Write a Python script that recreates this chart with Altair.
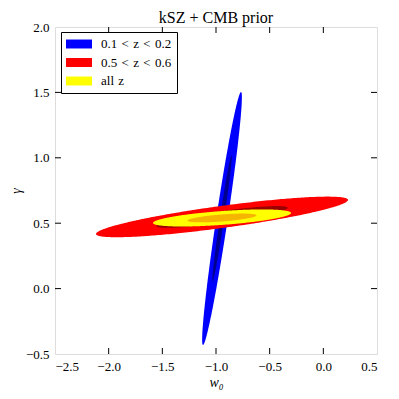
import numpy as np
import pandas as pd
import altair as alt

# ---- data ----
sets = ["0.1 < z < 0.2", "0.5 < z < 0.6", "all z"]
set_colors = ["#0000ff", "#ff0000", "#ffff00"]
inner_colors = ["#00007a", "#8b0000", "#f5a800"]

# ellipse centre (w0, gamma)
center_w0 = [-0.944, -0.944, -0.944]
center_gamma = [0.536, 0.548, 0.540]
# half major axis vector (d w0, d gamma)
major_dw0 = [0.177, 1.174, 0.643]
major_dgamma = [0.967, 0.130, 0.038]
# half width across (horizontal for first, vertical for others)
half_width = [0.054, 0.085, 0.053]
# inner (1-sigma) contours
inner_major_scale = [0.50, 0.52, 0.50]
inner_major_dgamma = [0.50, 0.070, 0.020]
inner_width = [0.02, 0.045, 0.027]

xticks = [-2.5, -2.0, -1.5, -1.0, -0.5, 0.0, 0.5]
yticks = [-0.5, 0.0, 0.5, 1.0, 1.5, 2.0]

W, H = 322, 327
phi = np.linspace(0, np.pi, 161)
t = np.cos(phi)
s = np.sin(phi)


def ellipse(i, du, dv, hw, name):
    cx, cy = center_w0[i], center_gamma[i]
    if i == 0:  # mostly vertical: parametrise by gamma
        y = cy + dv * t
        xm = cx + du * t
        return pd.DataFrame({"set": name, "g": y, "lo": xm - hw * s, "hi": xm + hw * s})
    x = cx + du * t
    ym = cy + dv * t
    return pd.DataFrame({"set": name, "w": x, "lo": ym - hw * s, "hi": ym + hw * s})


xs = alt.Scale(domain=[-2.5, 0.5], nice=False, zero=False)
ys = alt.Scale(domain=[-0.5, 2.0], nice=False, zero=False)
cscale = alt.Scale(domain=sets, range=set_colors)

font = "Liberation Serif"
xaxis = alt.Axis(values=xticks, format=".1f", ticks=False, domain=False, grid=False,
                 labelPadding=6, title="w₀", titleFontWeight="normal", titlePadding=2,
                 titleFontStyle="italic",
                 labelFont=font, titleFont=font, labelFontSize=13, titleFontSize=14,
                 labelColor="black", titleColor="black")
yaxis = alt.Axis(values=yticks, format=".1f", ticks=False, domain=False, grid=False,
                 labelPadding=6, title="γ", titleFontWeight="normal", titlePadding=2,
                 titleFontStyle="italic",
                 labelFont=font, titleFont=font, labelFontSize=13, titleFontSize=14,
                 labelColor="black", titleColor="black")

legend = alt.Legend(title=None, orient="none", legendX=6, legendY=5,
                    strokeColor="black", fillColor="white", padding=5, cornerRadius=0,
                    labelFont=font, labelFontSize=13, labelColor="black",
                    labelExpr="replace(datum.label, / /g, '\u2004')",
                    symbolType="M-1.86,-0.64H1.86V0.64H-1.86Z", symbolSize=196,
                    symbolStrokeWidth=0, symbolOpacity=1, rowPadding=4.5,
                    symbolOffset=6, labelOffset=15)

layers = []
for i in range(3):
    outer = ellipse(i, major_dw0[i], major_dgamma[i], half_width[i], sets[i])
    sc = inner_major_scale[i]
    inner = ellipse(i, major_dw0[i] * sc, inner_major_dgamma[i] if i else major_dgamma[i] * sc,
                    inner_width[i], sets[i])
    for j, df in enumerate([outer, inner]):
        if i == 0:
            mk = alt.Chart(df).mark_area(orient="horizontal", opacity=1)
            enc = dict(y=alt.Y("g:Q", scale=ys, axis=yaxis),
                       x=alt.X("lo:Q", scale=xs, axis=xaxis), x2="hi:Q")
        else:
            mk = alt.Chart(df).mark_area(orient="vertical", opacity=1)
            enc = dict(x=alt.X("w:Q", scale=xs, axis=xaxis),
                       y=alt.Y("lo:Q", scale=ys, axis=yaxis), y2="hi:Q")
        if j == 0:
            enc["color"] = alt.Color("set:N", scale=cscale, legend=legend, sort=sets)
        else:
            enc["color"] = alt.value(inner_colors[i])
            enc["opacity"] = alt.value(0.85)
        layers.append(mk.encode(**enc))

# inward ticks on all four sides
xt = pd.DataFrame({"v": xticks[1:-1]})
yt = pd.DataFrame({"v": yticks[1:-1]})
tl = 6
tick_layers = [
    alt.Chart(xt).mark_rule(color="black", strokeWidth=1).encode(
        x=alt.X("v:Q", scale=xs, axis=xaxis), y=alt.value(H), y2=alt.value(H - tl)),
    alt.Chart(xt).mark_rule(color="black", strokeWidth=1).encode(
        x=alt.X("v:Q", scale=xs, axis=xaxis), y=alt.value(0), y2=alt.value(tl)),
    alt.Chart(yt).mark_rule(color="black", strokeWidth=1).encode(
        y=alt.Y("v:Q", scale=ys, axis=yaxis), x=alt.value(0), x2=alt.value(tl)),
    alt.Chart(yt).mark_rule(color="black", strokeWidth=1).encode(
        y=alt.Y("v:Q", scale=ys, axis=yaxis), x=alt.value(W), x2=alt.value(W - tl)),
]

chart = alt.layer(*layers, *tick_layers).properties(
    width=W, height=H,
    title=alt.Title("kSZ + CMB prior", font=font, fontSize=16, fontWeight="normal",
                    color="black", offset=-5, frame="group"),
    autosize=alt.AutoSizeParams(type="none"),
    padding={"left": 47, "top": 19, "right": 14, "bottom": 37},
).configure_view(stroke="black", strokeWidth=1.2).configure(background="white")

chart.save("out.html", embed_options={"renderer": "svg", "actions": False})
